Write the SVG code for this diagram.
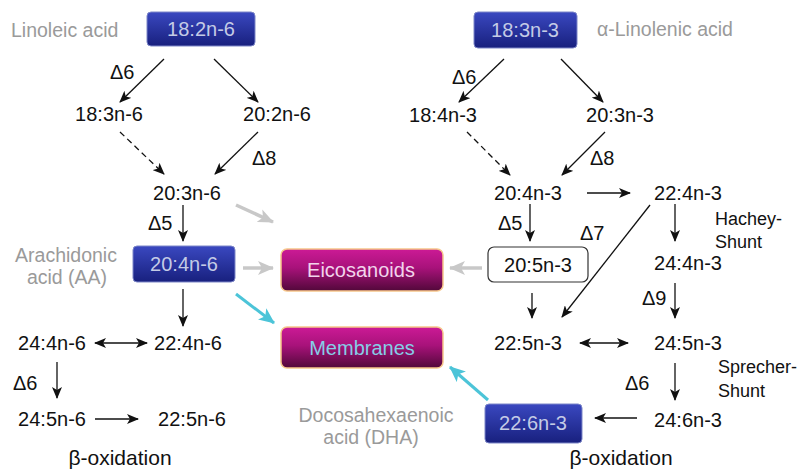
<svg xmlns="http://www.w3.org/2000/svg" width="801" height="471" viewBox="0 0 801 471">
<defs>
<linearGradient id="gBlue" x1="0" y1="0" x2="0" y2="1">
<stop offset="0" stop-color="#3a48c0"/><stop offset="1" stop-color="#18207e"/>
</linearGradient>
<linearGradient id="gMag" x1="0" y1="0" x2="0" y2="1">
<stop offset="0" stop-color="#cc1a96"/><stop offset="0.45" stop-color="#a8127a"/><stop offset="1" stop-color="#52083a"/>
</linearGradient>
<marker id="ah" viewBox="0 0 12 10" refX="11" refY="5" markerWidth="12" markerHeight="10" markerUnits="userSpaceOnUse" orient="auto-start-reverse">
<path d="M0,0 L12,5 L0,10 L3,5 z" fill="#111"/>
</marker>
<marker id="ahg" viewBox="0 0 16 14" refX="15" refY="7" markerWidth="16" markerHeight="14" markerUnits="userSpaceOnUse" orient="auto">
<path d="M0,0 L16,7 L0,14 L4,7 z" fill="#c8c8c8"/>
</marker>
<marker id="ahc" viewBox="0 0 16 14" refX="15" refY="7" markerWidth="16" markerHeight="14" markerUnits="userSpaceOnUse" orient="auto">
<path d="M0,0 L16,7 L0,14 L4,7 z" fill="#4cc4d8"/>
</marker>
</defs>
<style>
text{font-family:"Liberation Sans",Arial,sans-serif;}
.lb{font-size:20px;fill:#111;text-anchor:middle;}
.d{font-size:20px;fill:#111;}
.sm{font-size:18px;fill:#111;}
.gr{font-size:19.5px;fill:#9a9a9a;}
.bt{font-size:20px;fill:#c4cbe6;text-anchor:middle;}
.blue{fill:url(#gBlue);stroke:#7c86c8;stroke-width:1;}
.mag{fill:url(#gMag);stroke:#f6c68a;stroke-width:1.5;}
.ar{stroke:#111;stroke-width:1.3;fill:none;marker-end:url(#ah);}
.da{stroke:#111;stroke-width:1.3;fill:none;marker-end:url(#ah);stroke-dasharray:6,4;}
.dbl{stroke:#111;stroke-width:1.3;fill:none;marker-end:url(#ah);marker-start:url(#ah);}
.ga{stroke:#c8c8c8;stroke-width:3.5;fill:none;marker-end:url(#ahg);}
.ca{stroke:#4cc4d8;stroke-width:3;fill:none;marker-end:url(#ahc);}
.ox{font-size:21px;fill:#111;text-anchor:middle;}
</style>

<g id="connectors">
<line class="ar" x1="164" y1="59" x2="120" y2="102"/>
<line class="ar" x1="214" y1="59" x2="258" y2="102"/>
<line class="ar" x1="504" y1="59" x2="459" y2="102"/>
<line class="ar" x1="561" y1="59" x2="603" y2="102"/>
<line class="da" x1="120" y1="132" x2="164" y2="174"/>
<line class="ar" x1="258" y1="132" x2="215" y2="174"/>
<line class="da" x1="467" y1="132" x2="510" y2="175"/>
<line class="ar" x1="605" y1="132" x2="562" y2="175"/>
<line class="ar" x1="183" y1="205" x2="183" y2="241"/>
<line class="ar" x1="183" y1="289" x2="183" y2="326"/>
<line class="ar" x1="530" y1="204" x2="530" y2="241"/>
<line class="ar" x1="587" y1="193" x2="630" y2="193"/>
<line class="ar" x1="675" y1="204" x2="675" y2="241"/>
<line class="ar" x1="650" y1="205" x2="562" y2="317"/>
<line class="ar" x1="675" y1="283" x2="675" y2="318"/>
<line class="ar" x1="532" y1="293" x2="532" y2="318"/>
<line class="dbl" x1="95" y1="343" x2="147" y2="343"/>
<line class="ar" x1="57" y1="362" x2="57" y2="398"/>
<line class="ar" x1="95" y1="419" x2="138" y2="419"/>
<line class="dbl" x1="580" y1="343" x2="628" y2="343"/>
<line class="ar" x1="675" y1="363" x2="675" y2="400"/>
<line class="ar" x1="637" y1="418" x2="595" y2="418"/>
<line class="ga" x1="236" y1="205" x2="273" y2="222"/>
<line class="ga" x1="243" y1="268" x2="273" y2="268"/>
<line class="ga" x1="482" y1="268" x2="450" y2="268"/>
<line class="ca" x1="236" y1="294" x2="274" y2="323"/>
<line class="ca" x1="488" y1="400" x2="450" y2="367"/>
</g>

<g id="n18_2n6"><rect class="blue" x="147" y="12" width="108" height="34" rx="4"/><text class="bt" x="201" y="36">18:2n-6</text></g>
<g id="linoleic"><text class="gr" x="11" y="37">Linoleic acid</text></g>
<g id="n18_3n3"><rect class="blue" x="474" y="12" width="103" height="36" rx="4"/><text class="bt" x="525" y="37">18:3n-3</text></g>
<g id="alinolenic"><text class="gr" x="597" y="36">α-Linolenic acid</text></g>

<g id="d6a"><text class="d" x="110" y="79">Δ6</text></g>
<g id="d6b"><text class="d" x="452" y="84">Δ6</text></g>
<g id="n18_3n6"><text class="lb" x="109" y="121">18:3n-6</text></g>
<g id="n20_2n6"><text class="lb" x="277" y="121">20:2n-6</text></g>
<g id="n18_4n3"><text class="lb" x="443" y="122">18:4n-3</text></g>
<g id="n20_3n3"><text class="lb" x="620" y="122">20:3n-3</text></g>
<g id="d8a"><text class="d" x="252" y="165">Δ8</text></g>
<g id="d8b"><text class="d" x="590" y="165">Δ8</text></g>

<g id="n20_3n6"><text class="lb" x="187" y="200">20:3n-6</text></g>
<g id="d5a"><text class="d" x="148" y="230">Δ5</text></g>
<g id="n20_4n3"><text class="lb" x="528" y="200">20:4n-3</text></g>
<g id="n22_4n3"><text class="lb" x="688" y="200">22:4n-3</text></g>
<g id="d5b"><text class="d" x="498" y="230">Δ5</text></g>
<g id="d7"><text class="d" x="580" y="240">Δ7</text></g>
<g id="hachey"><text class="sm" x="715" y="225">Hachey-</text><text class="sm" x="715" y="248">Shunt</text></g>

<g id="arachidonic"><text class="gr" x="66" y="262" text-anchor="middle">Arachidonic</text><text class="gr" x="67" y="284" text-anchor="middle">acid (AA)</text></g>
<g id="n20_4n6"><rect class="blue" x="133" y="246" width="102" height="36" rx="4"/><text class="bt" x="184" y="271">20:4n-6</text></g>
<g id="eicosanoids"><rect class="mag" x="281" y="249" width="162" height="42" rx="6"/><text x="361" y="277" style="font-size:20px;fill:#f2d4ec;text-anchor:middle">Eicosanoids</text></g>
<g id="n20_5n3"><rect x="488" y="247" width="100" height="35" rx="6" fill="#fff" stroke="#333" stroke-width="1.2"/><text class="lb" x="538" y="272">20:5n-3</text></g>
<g id="n24_4n3"><text class="lb" x="688" y="270">24:4n-3</text></g>
<g id="d9"><text class="d" x="642" y="305">Δ9</text></g>

<g id="n24_4n6"><text class="lb" x="52" y="350">24:4n-6</text></g>
<g id="n22_4n6"><text class="lb" x="188" y="350">22:4n-6</text></g>
<g id="membranes"><rect class="mag" x="281" y="327" width="162" height="41" rx="6"/><text x="362" y="355" style="font-size:20px;fill:#86cde6;text-anchor:middle">Membranes</text></g>
<g id="n22_5n3"><text class="lb" x="528" y="350">22:5n-3</text></g>
<g id="n24_5n3"><text class="lb" x="688" y="350">24:5n-3</text></g>
<g id="sprecher"><text class="sm" x="718" y="373">Sprecher-</text><text class="sm" x="718" y="397">Shunt</text></g>
<g id="d6c"><text class="d" x="13" y="390">Δ6</text></g>
<g id="d6d"><text class="d" x="625" y="390">Δ6</text></g>

<g id="n24_5n6"><text class="lb" x="52" y="426">24:5n-6</text></g>
<g id="n22_5n6"><text class="lb" x="192" y="426">22:5n-6</text></g>
<g id="dha"><text class="gr" x="376" y="422" text-anchor="middle">Docosahexaenoic</text><text class="gr" x="371" y="444" text-anchor="middle">acid (DHA)</text></g>
<g id="n22_6n3"><rect class="blue" x="485" y="404" width="97" height="39" rx="4"/><text class="bt" x="533" y="430">22:6n-3</text></g>
<g id="n24_6n3"><text class="lb" x="688" y="427">24:6n-3</text></g>

<g id="boxa"><text class="ox" x="120" y="465">β-oxidation</text></g>
<g id="boxb"><text class="ox" x="621" y="465">β-oxidation</text></g>
</svg>
